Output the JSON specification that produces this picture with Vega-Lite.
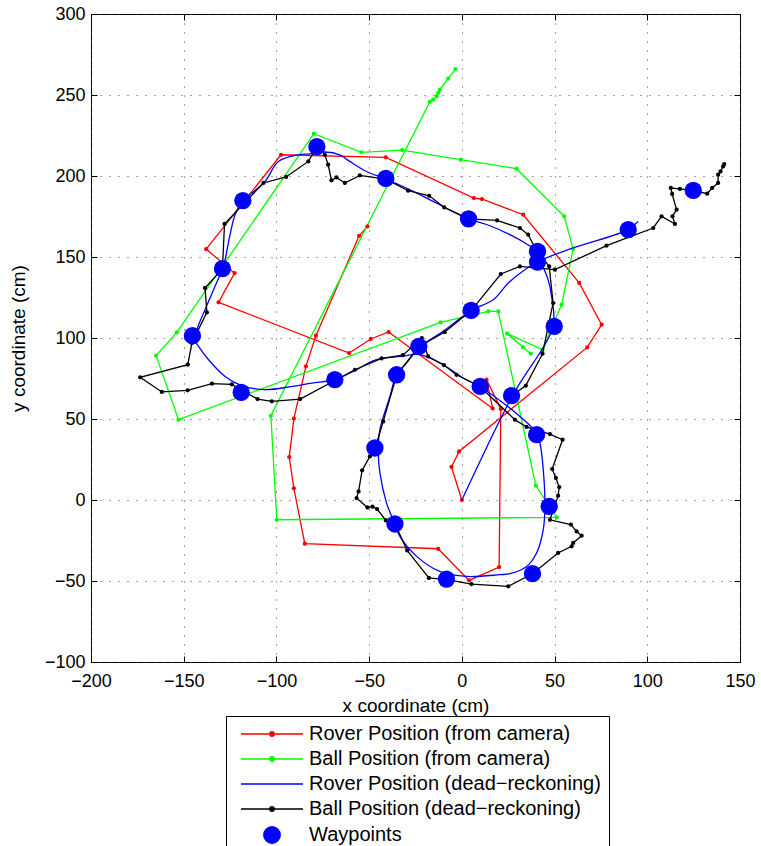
{
  "$schema": "https://vega.github.io/schema/vega-lite/v6.json",
  "width": 649,
  "height": 648,
  "autosize": {"type": "none"},
  "padding": {"left": 91, "top": 14, "right": 21, "bottom": 184},
  "config": {
    "font": "Liberation Sans",
    "view": {"stroke": "black", "strokeWidth": 1},
    "axis": {
      "labelFont": "Liberation Sans", "labelFontSize": 18, "labelColor": "black", "labelFlush": false,
      "titleFont": "Liberation Sans", "titleFontSize": 19, "titleFontWeight": "normal", "titleColor": "black",
      "tickColor": "black", "tickSize": -6, "domain": false,
      "gridColor": "#444", "gridDash": [1, 8], "gridWidth": 1
    }
  },
  "data": {"values": [
    {"s":"R","i":0,"x":0,"y":0},{"s":"R","i":1,"x":-5.6,"y":20.4},{"s":"R","i":2,"x":-1.5,"y":30.0},{"s":"R","i":3,"x":67.6,"y":94.2},{"s":"R","i":4,"x":75.4,"y":108.2},{"s":"R","i":5,"x":63.3,"y":134.0},{"s":"R","i":6,"x":33.1,"y":176.1},{"s":"R","i":7,"x":10.8,"y":185.8},{"s":"R","i":8,"x":6.5,"y":186.4},{"s":"R","i":9,"x":-41.0,"y":211.5},{"s":"R","i":10,"x":-97.5,"y":213.1},{"s":"R","i":11,"x":-137.9,"y":154.9},{"s":"R","i":12,"x":-122.6,"y":140.1},{"s":"R","i":13,"x":-131.2,"y":122.0},{"s":"R","i":14,"x":-60.8,"y":90.7},{"s":"R","i":15,"x":-49.1,"y":99.4},{"s":"R","i":16,"x":-39.5,"y":103.7},{"s":"R","i":17,"x":16.6,"y":56.5},{"s":"R","i":18,"x":13.3,"y":74.3},{"s":"R","i":19,"x":21.0,"y":56.2},{"s":"R","i":20,"x":20.1,"y":-41.4},{"s":"R","i":21,"x":3.9,"y":-49.6},{"s":"R","i":22,"x":-12.8,"y":-30.1},{"s":"R","i":23,"x":-84.7,"y":-27.0},{"s":"R","i":24,"x":-90.6,"y":7.2},{"s":"R","i":25,"x":-93.1,"y":26.5},{"s":"R","i":26,"x":-90.6,"y":50.2},{"s":"R","i":27,"x":-84.1,"y":82.5},{"s":"R","i":28,"x":-78.7,"y":101.4},{"s":"R","i":29,"x":-55.4,"y":163.1},{"s":"R","i":30,"x":-50.9,"y":168.9},
    {"s":"G","i":0,"x":-3.4,"y":266.0},{"s":"G","i":1,"x":-7.4,"y":260.1},{"s":"G","i":2,"x":-11.9,"y":253.3},{"s":"G","i":3,"x":-12.8,"y":251.2},{"s":"G","i":4,"x":-13.6,"y":249.1},{"s":"G","i":5,"x":-15.5,"y":247.1},{"s":"G","i":6,"x":-17.3,"y":245.7},{"s":"G","i":7,"x":-103.0,"y":52.0},{"s":"G","i":8,"x":-99.8,"y":-12.2},{"s":"G","i":9,"x":51.1,"y":-10.7},{"s":"G","i":10,"x":39.9,"y":8.8},{"s":"G","i":11,"x":19.6,"y":116.4},{"s":"G","i":12,"x":14.2,"y":116.4},{"s":"G","i":13,"x":-11.5,"y":109.6},{"s":"G","i":14,"x":-152.8,"y":49.6},{"s":"G","i":15,"x":-164.9,"y":89.1},{"s":"G","i":16,"x":-153.7,"y":103.5},{"s":"G","i":17,"x":-79.8,"y":226.1},{"s":"G","i":18,"x":-54.1,"y":214.6},{"s":"G","i":19,"x":-32.2,"y":216.0},{"s":"G","i":20,"x":-0.7,"y":210.1},{"s":"G","i":21,"x":29.5,"y":204.5},{"s":"G","i":22,"x":55.2,"y":175.1},{"s":"G","i":23,"x":60.0,"y":154.9},{"s":"G","i":24,"x":53.8,"y":120.6},{"s":"G","i":25,"x":43.5,"y":92.8},{"s":"G","i":26,"x":24.4,"y":102.7},{"s":"G","i":27,"x":33.1,"y":94.2},{"s":"G","i":28,"x":37.2,"y":90.3},
    {"s":"B","i":0,"x":0,"y":0},{"s":"B","i":1,"x":27.0,"y":63.8},{"s":"B","i":2,"x":49.1,"y":107.0},{"s":"B","i":3,"x":48.4,"y":125.7},{"s":"B","i":4,"x":46.5,"y":136.0},{"s":"B","i":5,"x":43.7,"y":144.2},{"s":"B","i":6,"x":40.8,"y":153.3},{"s":"B","i":7,"x":35.6,"y":157.6},{"s":"B","i":8,"x":27.0,"y":163.2},{"s":"B","i":9,"x":15.1,"y":169.3},{"s":"B","i":10,"x":3.6,"y":173.5},{"s":"B","i":11,"x":-15.5,"y":184.3},{"s":"B","i":12,"x":-28.0,"y":191.5},{"s":"B","i":13,"x":-41.0,"y":198.1},{"s":"B","i":14,"x":-51.4,"y":202.8},{"s":"B","i":15,"x":-60.4,"y":209.0},{"s":"B","i":16,"x":-65.8,"y":213.1},{"s":"B","i":17,"x":-73.9,"y":214.8},{"s":"B","i":18,"x":-82.0,"y":213.6},{"s":"B","i":19,"x":-88.1,"y":213.1},{"s":"B","i":20,"x":-98.9,"y":209.0},{"s":"B","i":21,"x":-106.1,"y":196.7},{"s":"B","i":22,"x":-113.3,"y":189.5},{"s":"B","i":23,"x":-117.7,"y":185.4},{"s":"B","i":24,"x":-122.3,"y":176.1},{"s":"B","i":25,"x":-125.0,"y":163.8},{"s":"B","i":26,"x":-127.7,"y":148.3},{"s":"B","i":27,"x":-129.1,"y":142.8},{"s":"B","i":28,"x":-133.1,"y":131.9},{"s":"B","i":29,"x":-138.5,"y":117.5},{"s":"B","i":30,"x":-142.9,"y":105.1},{"s":"B","i":31,"x":-144.0,"y":99.0},{"s":"B","i":32,"x":-142.0,"y":94.8},{"s":"B","i":33,"x":-136.6,"y":86.6},{"s":"B","i":34,"x":-127.7,"y":76.3},{"s":"B","i":35,"x":-118.7,"y":70.6},{"s":"B","i":36,"x":-106.1,"y":68.1},{"s":"B","i":37,"x":-91.7,"y":70.1},{"s":"B","i":38,"x":-80.9,"y":72.2},{"s":"B","i":39,"x":-68.5,"y":74.3},{"s":"B","i":40,"x":-58.6,"y":79.4},{"s":"B","i":41,"x":-46.0,"y":86.6},{"s":"B","i":42,"x":-33.4,"y":88.6},{"s":"B","i":43,"x":-22.7,"y":89.7},{"s":"B","i":44,"x":-10.1,"y":83.5},{"s":"B","i":45,"x":0.7,"y":75.3},{"s":"B","i":46,"x":9.7,"y":70.1},{"s":"B","i":47,"x":22.3,"y":59.9},{"s":"B","i":48,"x":31.3,"y":51.6},{"s":"B","i":49,"x":40.3,"y":41.4},{"s":"B","i":50,"x":42.1,"y":35.2},{"s":"B","i":51,"x":43.9,"y":18.7},{"s":"B","i":52,"x":44.8,"y":-4.0},{"s":"B","i":53,"x":43.9,"y":-18.3},{"s":"B","i":54,"x":40.3,"y":-32.7},{"s":"B","i":55,"x":34.9,"y":-41.0},{"s":"B","i":56,"x":25.9,"y":-45.5},{"s":"B","i":57,"x":20.5,"y":-46.1},{"s":"B","i":58,"x":2.5,"y":-47.2},{"s":"B","i":59,"x":-11.9,"y":-44.1},{"s":"B","i":60,"x":-24.4,"y":-34.8},{"s":"B","i":61,"x":-33.4,"y":-22.5},{"s":"B","i":62,"x":-36.1,"y":-14.8},{"s":"B","i":63,"x":-40.6,"y":-1.9},{"s":"B","i":64,"x":-44.2,"y":16.7},{"s":"B","i":65,"x":-45.1,"y":31.0},{"s":"B","i":66,"x":-44.2,"y":43.4},{"s":"B","i":67,"x":-38.8,"y":64.0},{"s":"B","i":68,"x":-35.2,"y":77.3},{"s":"B","i":69,"x":-29.8,"y":84.6},{"s":"B","i":70,"x":-23.0,"y":94.2},{"s":"B","i":71,"x":-10.1,"y":104.1},{"s":"B","i":72,"x":5.0,"y":117.0},{"s":"B","i":73,"x":16.9,"y":123.6},{"s":"B","i":74,"x":25.9,"y":134.9},{"s":"B","i":75,"x":40.8,"y":146.9},{"s":"B","i":76,"x":60.0,"y":155.6},{"s":"B","i":77,"x":89.7,"y":166.9},{"s":"B","i":78,"x":95.1,"y":172.0},
    {"s":"K","i":0,"x":26.8,"y":64.0},{"s":"K","i":1,"x":34.5,"y":70.6},{"s":"K","i":2,"x":43.5,"y":90.3},{"s":"K","i":3,"x":49.2,"y":121.6},{"s":"K","i":4,"x":47.1,"y":144.2},{"s":"K","i":5,"x":39.4,"y":155.7},{"s":"K","i":6,"x":35.8,"y":163.8},{"s":"K","i":7,"x":31.3,"y":167.9},{"s":"K","i":8,"x":19.0,"y":172.6},{"s":"K","i":9,"x":3.6,"y":173.5},{"s":"K","i":10,"x":-9.5,"y":180.6},{"s":"K","i":11,"x":-17.6,"y":187.8},{"s":"K","i":12,"x":-29.0,"y":190.9},{"s":"K","i":13,"x":-41.0,"y":198.1},{"s":"K","i":14,"x":-55.0,"y":200.4},{"s":"K","i":15,"x":-63.1,"y":195.7},{"s":"K","i":16,"x":-67.6,"y":199.1},{"s":"K","i":17,"x":-70.3,"y":197.3},{"s":"K","i":18,"x":-72.1,"y":207.0},{"s":"K","i":19,"x":-73.9,"y":213.1},{"s":"K","i":20,"x":-77.7,"y":218.7},{"s":"K","i":21,"x":-82.8,"y":209.0},{"s":"K","i":22,"x":-94.8,"y":199.4},{"s":"K","i":23,"x":-107.0,"y":195.7},{"s":"K","i":24,"x":-128.0,"y":170.4},{"s":"K","i":25,"x":-129.1,"y":142.8},{"s":"K","i":26,"x":-138.5,"y":130.9},{"s":"K","i":27,"x":-137.5,"y":115.8},{"s":"K","i":28,"x":-145.6,"y":96.9},{"s":"K","i":29,"x":-147.8,"y":83.5},{"s":"K","i":30,"x":-173.5,"y":75.7},{"s":"K","i":31,"x":-161.8,"y":66.7},{"s":"K","i":32,"x":-147.9,"y":67.7},{"s":"K","i":33,"x":-134.8,"y":71.8},{"s":"K","i":34,"x":-124.1,"y":71.4},{"s":"K","i":35,"x":-110.2,"y":62.3},{"s":"K","i":36,"x":-102.5,"y":60.9},{"s":"K","i":37,"x":-87.2,"y":62.3},{"s":"K","i":38,"x":-57.7,"y":80.4},{"s":"K","i":39,"x":-43.3,"y":87.4},{"s":"K","i":40,"x":-31.8,"y":89.4},{"s":"K","i":41,"x":-21.6,"y":100.0},{"s":"K","i":42,"x":-18.2,"y":88.6},{"s":"K","i":43,"x":-9.7,"y":83.3},{"s":"K","i":44,"x":-2.9,"y":77.3},{"s":"K","i":45,"x":9.7,"y":70.1},{"s":"K","i":46,"x":28.6,"y":49.6},{"s":"K","i":47,"x":34.9,"y":45.1},{"s":"K","i":48,"x":47.5,"y":40.7},{"s":"K","i":49,"x":54.3,"y":37.2},{"s":"K","i":50,"x":48.7,"y":19.1},{"s":"K","i":51,"x":50.7,"y":13.6},{"s":"K","i":52,"x":52.5,"y":8.0},{"s":"K","i":53,"x":51.9,"y":2.7},{"s":"K","i":54,"x":47.5,"y":-12.2},{"s":"K","i":55,"x":58.8,"y":-15.2},{"s":"K","i":56,"x":61.9,"y":-19.4},{"s":"K","i":57,"x":64.6,"y":-22.0},{"s":"K","i":58,"x":60.0,"y":-26.5},{"s":"K","i":59,"x":59.2,"y":-28.6},{"s":"K","i":60,"x":51.9,"y":-32.7},{"s":"K","i":61,"x":38.1,"y":-45.5},{"s":"K","i":62,"x":25.0,"y":-53.3},{"s":"K","i":63,"x":5.2,"y":-51.9},{"s":"K","i":64,"x":-8.1,"y":-49.2},{"s":"K","i":65,"x":-17.8,"y":-48.1},{"s":"K","i":66,"x":-29.5,"y":-31.1},{"s":"K","i":67,"x":-36.1,"y":-14.6},{"s":"K","i":68,"x":-41.0,"y":-12.6},{"s":"K","i":69,"x":-45.7,"y":-5.6},{"s":"K","i":70,"x":-48.2,"y":-4.1},{"s":"K","i":71,"x":-50.9,"y":-4.6},{"s":"K","i":72,"x":-56.8,"y":1.2},{"s":"K","i":73,"x":-55.7,"y":5.3},{"s":"K","i":74,"x":-53.8,"y":18.3},{"s":"K","i":75,"x":-49.6,"y":26.9},{"s":"K","i":76,"x":-46.9,"y":31.7},{"s":"K","i":77,"x":-42.4,"y":48.5},{"s":"K","i":78,"x":-35.1,"y":77.3},{"s":"K","i":79,"x":-23.2,"y":94.6},{"s":"K","i":80,"x":-9.2,"y":103.7},{"s":"K","i":81,"x":5.0,"y":116.9},{"s":"K","i":82,"x":21.0,"y":139.5},{"s":"K","i":83,"x":31.3,"y":144.2},{"s":"K","i":84,"x":50.2,"y":142.2},{"s":"K","i":85,"x":78.0,"y":157.0},{"s":"K","i":86,"x":103.2,"y":167.9},{"s":"K","i":87,"x":107.7,"y":175.1},{"s":"K","i":88,"x":114.9,"y":170.4},{"s":"K","i":89,"x":113.6,"y":175.1},{"s":"K","i":90,"x":115.8,"y":179.2},{"s":"K","i":91,"x":113.4,"y":188.9},{"s":"K","i":92,"x":112.7,"y":192.6},{"s":"K","i":93,"x":117.6,"y":192.0},{"s":"K","i":94,"x":124.8,"y":191.1},{"s":"K","i":95,"x":132.3,"y":189.1},{"s":"K","i":96,"x":135.0,"y":192.6},{"s":"K","i":97,"x":138.2,"y":195.7},{"s":"K","i":98,"x":138.2,"y":200.8},{"s":"K","i":99,"x":139.5,"y":202.8},{"s":"K","i":100,"x":140.9,"y":205.9},{"s":"K","i":101,"x":141.5,"y":207.4},
    {"s":"W","i":0,"x":-78.2,"y":218.1},{"s":"W","i":1,"x":-118.1,"y":184.8},{"s":"W","i":2,"x":-41.0,"y":198.5},{"s":"W","i":3,"x":3.6,"y":173.5},{"s":"W","i":4,"x":40.8,"y":153.5},{"s":"W","i":5,"x":40.8,"y":146.9},{"s":"W","i":6,"x":89.7,"y":166.9},{"s":"W","i":7,"x":124.8,"y":191.1},{"s":"W","i":8,"x":-129.1,"y":142.8},{"s":"W","i":9,"x":-145.3,"y":101.4},{"s":"W","i":10,"x":-119.0,"y":66.4},{"s":"W","i":11,"x":-68.5,"y":74.3},{"s":"W","i":12,"x":-35.2,"y":77.3},{"s":"W","i":13,"x":-23.2,"y":94.8},{"s":"W","i":14,"x":5.0,"y":117.0},{"s":"W","i":15,"x":9.9,"y":70.1},{"s":"W","i":16,"x":26.8,"y":64.4},{"s":"W","i":17,"x":49.8,"y":107.2},{"s":"W","i":18,"x":40.3,"y":40.3},{"s":"W","i":19,"x":-46.9,"y":32.1},{"s":"W","i":20,"x":47.1,"y":-3.9},{"s":"W","i":21,"x":-36.1,"y":-14.8},{"s":"W","i":22,"x":-8.3,"y":-48.8},{"s":"W","i":23,"x":38.1,"y":-45.5}
  ]},
  "resolve": {"axis": {"x": "independent", "y": "independent"}},
  "layer": [
    {
      "transform": [{"filter": "datum.s == 'R' || datum.s == 'G'"}],
      "mark": {"type": "line", "strokeWidth": 1.3, "point": {"filled": true, "size": 18}},
      "encoding": {
        "x": {"field": "x", "type": "quantitative", "scale": {"domain": [-200, 150], "nice": false, "zero": false},
              "axis": {"orient": "bottom", "values": [-200,-150,-100,-50,0,50,100,150], "title": "x coordinate (cm)", "labelPadding": 16, "titlePadding": 6, "grid": true}},
        "y": {"field": "y", "type": "quantitative", "scale": {"domain": [-100, 300], "nice": false, "zero": false},
              "axis": {"orient": "left", "values": [-100,-50,0,50,100,150,200,250,300], "title": "y coordinate (cm)", "labelPadding": 12, "titlePadding": 16, "grid": true}},
        "color": {"field": "s", "type": "nominal",
          "scale": {"domain": ["R","G","B","K","W"], "range": ["#ff0000","#00ff00","#0000ff","#000000","#0000ff"]},
          "legend": {
            "orient": "none", "legendX": 135, "legendY": 702, "direction": "vertical",
            "title": null, "strokeColor": "black", "fillColor": "white", "padding": 8,
            "symbolSize": 100, "symbolStrokeWidth": 1.3, "symbolOffset": 28, "labelOffset": 27,
            "labelFont": "Liberation Sans", "labelFontSize": 20, "labelColor": "black", "labelLimit": 0,
            "rowPadding": 5,
            "labelExpr": "datum.value=='R'?'Rover Position (from camera)':datum.value=='G'?'Ball Position (from camera)':datum.value=='B'?'Rover Position (dead\u2212reckoning)':datum.value=='K'?'Ball Position (dead\u2212reckoning)':'Waypoints'",
            "encode": {
              "symbols": {"update": {
              "shape": {"signal": "datum.value=='B'?'M-7.2,0M-6.2,0L6.2,0':datum.value=='W'?'M-7.2,0M1.65,0A1.65,1.65,0,1,1,-1.65,0A1.65,1.65,0,1,1,1.65,0Z':'M-7.2,0M-6.2,0L6.2,0M0.45,0A0.45,0.45,0,1,1,-0.45,0A0.45,0.45,0,1,1,0.45,0Z'"},
              "fill": {"signal": "datum.value=='R'?'#ff0000':datum.value=='G'?'#00ff00':datum.value=='K'?'#000000':datum.value=='W'?'#0000ff':'transparent'"},
              "stroke": {"signal": "datum.value=='R'?'#ff0000':datum.value=='G'?'#00ff00':datum.value=='K'?'#000000':'#0000ff'"},
              "opacity": {"value": 1}
            }}}
          }},
        "order": {"field": "i", "type": "quantitative"}
      }
    },
    {
      "transform": [{"filter": "datum.s == 'B'"}],
      "mark": {"type": "line", "strokeWidth": 1.3, "interpolate": "catmull-rom"},
      "encoding": {
        "x": {"field": "x", "type": "quantitative", "axis": null},
        "y": {"field": "y", "type": "quantitative", "axis": null},
        "color": {"field": "s", "type": "nominal", "legend": null},
        "order": {"field": "i", "type": "quantitative"}
      }
    },
    {
      "transform": [{"filter": "datum.s == 'K'"}],
      "mark": {"type": "line", "strokeWidth": 1.3, "point": {"filled": true, "size": 18}},
      "encoding": {
        "x": {"field": "x", "type": "quantitative", "axis": null},
        "y": {"field": "y", "type": "quantitative", "axis": null},
        "color": {"field": "s", "type": "nominal", "legend": null},
        "order": {"field": "i", "type": "quantitative"}
      }
    },
    {
      "transform": [{"filter": "datum.s == 'W'"}],
      "mark": {"type": "point", "filled": true, "size": 300, "opacity": 1},
      "encoding": {
        "x": {"field": "x", "type": "quantitative",
              "axis": {"orient": "top", "values": [-200,-150,-100,-50,0,50,100,150], "labels": false, "title": null, "grid": false}},
        "y": {"field": "y", "type": "quantitative",
              "axis": {"orient": "right", "values": [-100,-50,0,50,100,150,200,250,300], "labels": false, "title": null, "grid": false}},
        "color": {"field": "s", "type": "nominal", "legend": null}
      }
    }
  ]
}
